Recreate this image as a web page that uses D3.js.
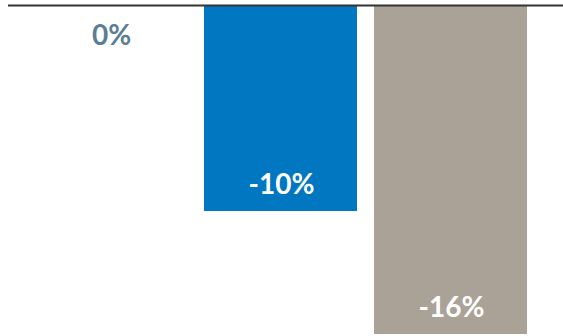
<!DOCTYPE html>
<html>
<head>
<meta charset="utf-8">
<script src="https://cdn.jsdelivr.net/npm/d3@7"></script>
<style>
  html, body { margin: 0; padding: 0; background: #fff; }
  svg { display: block; }
</style>
</head>
<body>
<svg id="chart" width="563" height="336"></svg>
<script>
// Percentage change per category
const categories = ["A", "B", "C"];
const values = [0, -10, -16];
const labels = ["0%", "-10%", "-16%"];
const barColors = ["#0077c0", "#0077c0", "#aaa197"];

const width = 563, height = 336;
const svg = d3.select("#chart");

const x = d3.scaleBand()
  .domain(categories)
  .range([25.5, 535.5])
  .paddingInner(0.1)
  .paddingOuter(0.05);

const y = d3.scaleLinear()
  .domain([0, -16])
  .range([6, 334]);

// Bars hang down from the zero line
svg.append("g")
  .selectAll("rect")
  .data(values)
  .join("rect")
  .attr("x", (d, i) => x(categories[i]))
  .attr("width", x.bandwidth())
  .attr("y", d => y(Math.max(0, d)))
  .attr("height", d => Math.abs(y(d) - y(0)))
  .attr("fill", (d, i) => barColors[i]);

// Zero baseline
svg.append("line")
  .attr("x1", 8)
  .attr("x2", width)
  .attr("y1", y(0) - 0.5)
  .attr("y2", y(0) - 0.5)
  .attr("stroke", "#333")
  .attr("stroke-width", 2);

// Value labels: inside the bar end, or under the line for a zero value
svg.append("g")
  .selectAll("text")
  .data(values)
  .join("text")
  .attr("x", (d, i) => x(categories[i]) + x.bandwidth() / 2 + 1)
  .attr("y", d => d === 0 ? y(0) + 39 : y(d) - 17)
  .attr("text-anchor", "middle")
  .attr("font-family", "Lato, 'Open Sans', sans-serif")
  .attr("font-weight", "bold")
  .attr("font-size", 28)
  .attr("fill", d => d === 0 ? "#5a7e96" : "#ffffff")
  .text((d, i) => labels[i]);
</script>
</body>
</html>
